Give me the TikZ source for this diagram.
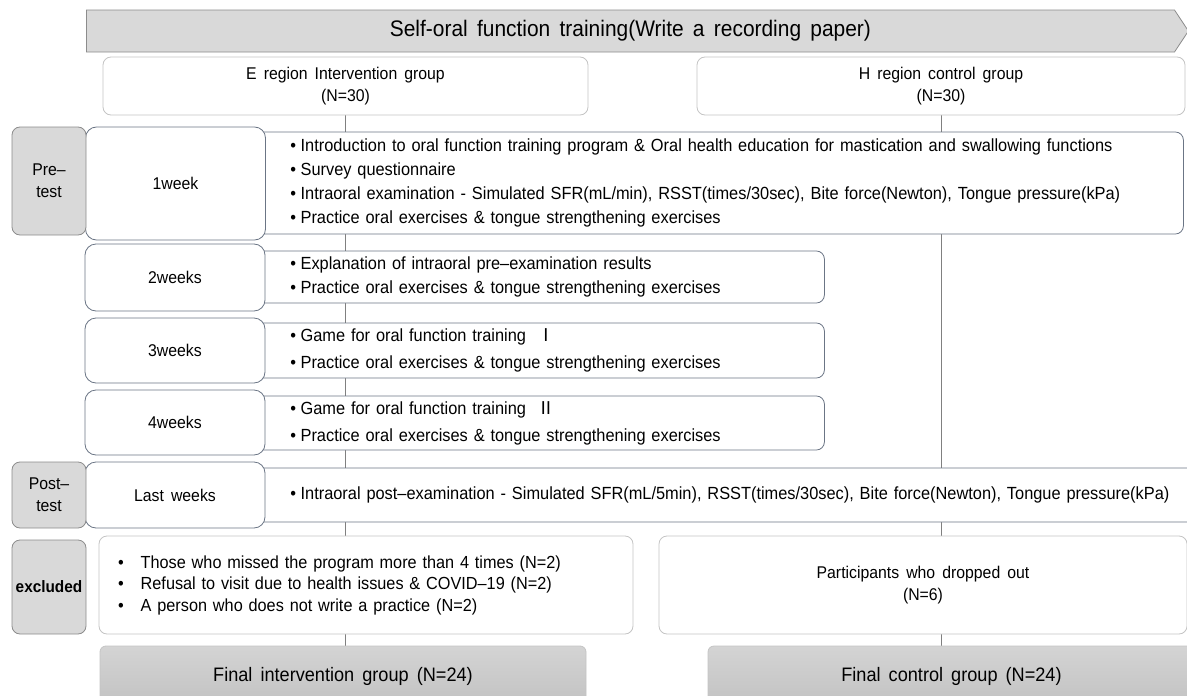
\documentclass[tikz,border=0pt]{standalone}
\usepackage{fontspec}
\setmainfont{Liberation Sans}[FakeStretch=0.93,WordSpace=1.6]
\newfontfamily\krfont{Noto Sans CJK KR}
\usetikzlibrary{shapes.symbols,backgrounds}
\definecolor{boxgray}{HTML}{D9D9D9}
\definecolor{bordgray}{HTML}{8C8C8C}
\definecolor{softgray}{HTML}{C4C4C4}
\definecolor{slate}{HTML}{6B7585}
\definecolor{linegray}{HTML}{808080}
\definecolor{fintop}{HTML}{D4D4D4}
\definecolor{finbot}{HTML}{C2C2C2}
\newcommand{\bul}{\textbullet\hspace{4.5pt}}
\newcommand{\lbul}{\textbullet\hspace{17pt}}

\begin{document}
\begin{tikzpicture}[x=1pt, y=-1pt, line width=0.8pt,
    banner/.style = {draw=bordgray, fill=boxgray, signal, signal to=east, signal pointer angle=113,
        minimum width=1102pt, minimum height=42pt, inner sep=0pt, font=\fontsize{22.5}{26}\selectfont},
    grp/.style = {draw=softgray, fill=white, rounded corners=8pt, align=center, font=\fontsize{17}{22}\selectfont},
    phase/.style = {draw=bordgray, fill=boxgray, rounded corners=8pt, minimum width=74pt, inner xsep=1pt, align=center,
        font=\fontsize{17}{22}\selectfont},
    week/.style = {draw=slate, fill=white, rounded corners=11pt, minimum width=180pt, font=\fontsize{17}{20}\selectfont},
    cont/.style = {draw=slate, fill=white, rounded corners=8pt, anchor=west, inner xsep=40pt, align=left,
        font=\fontsize{17.6}{24}\selectfont},
    fin/.style = {draw=softgray, top color=fintop, bottom color=finbot, rounded corners=6pt,
        font=\fontsize{19.5}{22}\selectfont},
    conn/.style = {draw=linegray, line width=1pt}]
    \useasboundingbox (0,0) rectangle (1187,696);

    % title and groups
    \node[banner, anchor=west] (ban) at (86,31) {Self-oral function training(Write a recording paper)};
    \node[grp, minimum width=485pt, minimum height=58pt] (e) at (345.5,86) {E region Intervention group\\(N=30)};
    \node[grp, minimum width=488pt, minimum height=58pt] (h) at (941,86) {H region control group\\(N=30)};

    % program contents
    \node[cont, text width=853pt, minimum height=102pt] (c1) at (250,183) {\bul Introduction to oral function training program \& Oral health education for mastication and swallowing functions\\
        \bul Survey questionnaire\\
        \bul Intraoral examination - Simulated SFR(mL/min), RSST(times/30sec), Bite force(Newton), Tongue pressure(kPa)\\
        \bul Practice oral exercises \& tongue strengthening exercises};
    \node[cont, text width=494pt, minimum height=52pt] (c2) at (250,277) {\bul Explanation of intraoral pre–examination results\\
        \bul Practice oral exercises \& tongue strengthening exercises};
    \node[cont, text width=494pt, minimum height=55pt] (c3) at (250,350.5) {\bul Game for oral function training \ {\krfont Ⅰ}\\[3pt]
        \bul Practice oral exercises \& tongue strengthening exercises};
    \node[cont, text width=494pt, minimum height=54pt] (c4) at (250,423) {\bul Game for oral function training \ {\krfont Ⅱ}\\[3pt]
        \bul Practice oral exercises \& tongue strengthening exercises};
    \node[cont, text width=930pt, minimum height=54pt] (c5) at (250,495) {\bul Intraoral post–examination - Simulated SFR(mL/5min), RSST(times/30sec), Bite force(Newton), Tongue pressure(kPa)};

    % weeks
    \node[week, minimum height=113pt] (w1) at (175.5,183.5) {1week};
    \node[week, minimum height=67pt] (w2) at (175,277.5) {2weeks};
    \node[week, minimum height=65pt] (w3) at (175,350.5) {3weeks};
    \node[week, minimum height=65pt] (w4) at (175,422.5) {4weeks};
    \node[week, minimum height=66pt] (w5) at (175,495) {Last weeks};

    % phases
    \node[phase, minimum height=108pt] (pre) at (49,181) {Pre–\\test};
    \node[phase, minimum height=66pt] (post) at (49,495) {Post–\\test};
    \node[phase, minimum height=94pt, font=\fontsize{16.5}{20}\selectfont\bfseries] (exc) at (49,587) {excluded};

    % drop outs and final groups
    \node[grp, align=left, text width=496pt, inner xsep=19pt, minimum height=98pt, font=\fontsize{17.5}{21.5}\selectfont] (exl) at (366,585) {\lbul Those who missed the program more than 4 times (N=2)\\
        \lbul Refusal to visit due to health issues \& COVID–19 (N=2)\\
        \lbul A person who does not write a practice (N=2)};
    \node[grp, minimum width=528pt, minimum height=98pt] (exr) at (923,585) {Participants who dropped out\\(N=6)};
    \node[fin, minimum width=486pt, minimum height=60pt] (fi) at (343,676) {Final intervention group (N=24)};
    \node[fin, minimum width=487pt, minimum height=60pt] (fc) at (951.5,676) {Final control group (N=24)};

    \begin{scope}[on background layer]
        \draw[conn] (e.south) -- (e.south |- fi.north);
        \draw[conn] (h.south) -- (h.south |- fc.north);
    \end{scope}
\end{tikzpicture}
\end{document}
